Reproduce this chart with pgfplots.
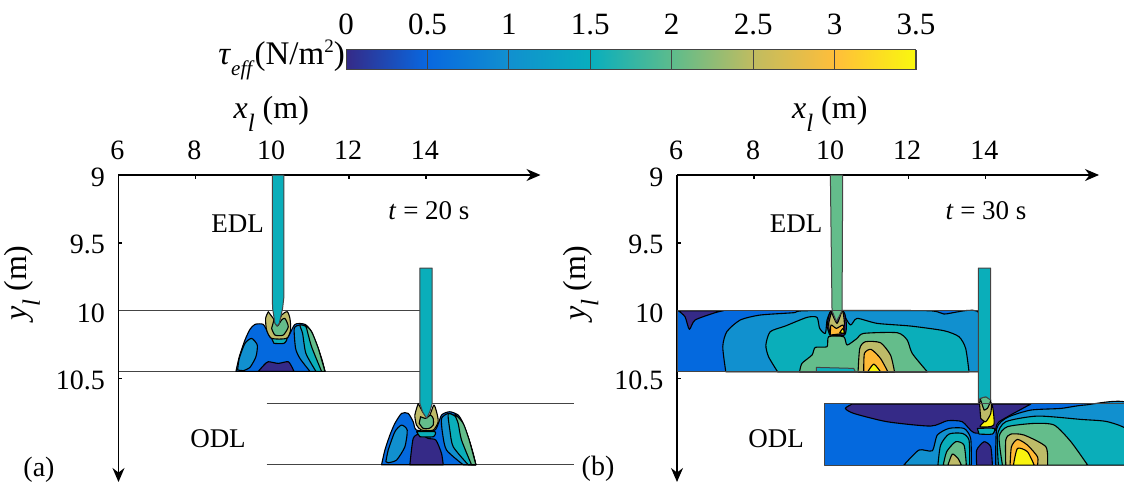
\documentclass[border=0pt]{standalone}
\usepackage{pgfplots}
\pgfplotsset{compat=1.18}
\usepackage{fontspec}
\setmainfont{Liberation Serif}
\usetikzlibrary{arrows.meta}
\definecolor{c0}{HTML}{352A87}
\definecolor{c1}{HTML}{0469DE}
\definecolor{c2}{HTML}{1190CF}
\definecolor{c3}{HTML}{0AAEBA}
\definecolor{c4}{HTML}{64BD8B}
\definecolor{c5}{HTML}{BEBB68}
\definecolor{c6}{HTML}{FFB935}
\definecolor{c7}{HTML}{F9F40F}
\definecolor{ln}{HTML}{444444}
\pgfplotsset{
 lft/.style n args={2}{x filter/.expression={6+(#1+x/3-118.5)/38.45}, y filter/.expression={9+(#2+y/3-175)/135.8}},
 rgt/.style n args={2}{x filter/.expression={6+(#1+x/3-677)/38.45}, y filter/.expression={9+(#2+y/3-175)/135.8}},
 za/.style={lft={200}{290}},
 zb/.style={rgt={660}{290}},
 zc/.style={rgt={820}{380}},
 reg/.style={draw=black,line width=1.1pt,line join=round,smooth,tension=0.4},
 sq/.style={draw=ln,line width=1pt,line join=round},
 hl/.style={draw=ln,line width=1.1pt},
 panel/.style={
  scale only axis,width=422pt,height=307pt,anchor=north west,clip=false,
  ymin=9,ymax=11.26,y dir=reverse,no marks,
  axis x line=top,axis y line=left,
  axis line style={line width=1.5pt,-{Stealth[length=14pt,width=12pt]}},
  xtick={6,8,10,12,14},ytick={9,9.5,10,10.5},
  tick align=inside,major tick length=4pt,tick style={line width=1.3pt,black},
  /pgf/number format/assume math mode=true,
  tick label style={font=\fontsize{28}{30}\selectfont},
  xticklabel style={yshift=12pt,xshift=-1pt},
  yticklabel style={yshift=-2pt,xshift=-10pt},
  xlabel={\fontsize{32}{34}\selectfont\textit{x}\raisebox{-13pt}{\fontsize{25}{25}\selectfont\textit{l}} (m)},
  ylabel={\fontsize{32}{34}\selectfont\textit{y}\raisebox{-13pt}{\fontsize{25}{25}\selectfont\textit{l}} (m)},
  every axis x label/.style={at={(axis description cs:0.362,1.2)},anchor=center},
  every axis y label/.style={at={(axis description cs:-0.228,0.648)},anchor=center,rotate=90},
 }
}
\newcommand{\reg}[3]{\addplot[reg,#1,fill=#2] coordinates {#3} --cycle;}
\newcommand{\sqr}[3]{\addplot[sq,#1,fill=#2] coordinates {#3} --cycle;}
\newcommand{\lab}[4][]{\node[font=\fontsize{#2}{#2}\selectfont,#1] at (#3) {#4};}
\begin{document}
\begin{tikzpicture}
\useasboundingbox (0pt,0pt) rectangle (1124pt,-486pt);

% colour bar
\begin{axis}[scale only axis,width=570pt,height=20pt,anchor=north west,at={(346pt,-50pt)},
  xmin=0,xmax=3.5,ymin=0,ymax=1,view={0}{90},
  colormap={tau}{rgb255(0cm)=(53,42,135);rgb255(1cm)=(8,104,224);rgb255(2cm)=(17,144,207);rgb255(3cm)=(8,174,190);rgb255(4cm)=(93,188,140);rgb255(5cm)=(192,188,96);rgb255(6cm)=(255,190,58);rgb255(7cm)=(249,248,14)},
  point meta min=0,point meta max=3.5,
  ytick=\empty,xtick={0,0.5,1,1.5,2,2.5,3,3.5},xticklabel pos=upper,xtick pos=upper,
  tick align=inside,major tick length=20pt,tick style={line width=0.8pt,ln},
  axis line style={line width=1pt,ln},axis on top,
  /pgf/number format/assume math mode=true,
  tick label style={font=\fontsize{31}{33}\selectfont},
  xticklabel style={yshift=12pt}]
\addplot3[surf,shader=interp,mesh/rows=2] coordinates {
(0,0,0) (0.5,0,0.5) (1,0,1) (1.5,0,1.5) (2,0,2) (2.5,0,2.5) (3,0,3) (3.5,0,3.5)

(0,1,0) (0.5,1,0.5) (1,1,1) (1.5,1,1.5) (2,1,2) (2.5,1,2.5) (3,1,3) (3.5,1,3.5)
};
\end{axis}
\node[anchor=east,inner sep=0pt,font=\fontsize{33}{35}\selectfont] at (345pt,-60pt)
  {\textit{τ}\raisebox{-11pt}{\fontsize{21}{21}\selectfont\textit{eff}}(N/m\raisebox{12pt}{\fontsize{19}{19}\selectfont 2})};

% panel (a)
\begin{axis}[panel,at={(118.5pt,-175pt)},xmin=6,xmax=16.98]
\addplot[hl,za] coordinates {(-243,62) (660,62)};
\addplot[hl,za] coordinates {(-243,244) (660,244)};
\addplot[hl,za] coordinates {(200,340) (1122,340)};
\addplot[hl,za] coordinates {(200,524) (1122,524)};
% EDL blob
\reg{za}{c1}{(108,244)(118,200)(135,150)(150,118)(165,103)(190,103)(205,130)(215,145)(260,145)(285,103)(315,103)(335,125)(355,175)(368,215)(375,244)}
\reg{za}{c2}{(113,240)(118,205)(135,160)(155,145)(172,165)(168,200)(150,232)(130,242)}
\reg{za}{c0}{(175,244)(192,225)(205,215)(235,220)(265,215)(278,235)(282,244)}
\reg{za}{c2}{(330,244)(300,205)(287,175)(283,115)(300,105)(320,110)(335,130)(355,178)(375,244)}
\reg{za}{c3}{(348,244)(318,190)(308,130)(300,105)(320,110)(335,130)(355,178)(375,244)}
\reg{za}{c4}{(365,244)(335,170)(320,115)(315,103)(335,125)(355,175)(375,244)}
\reg{za}{c3}{(215,145)(260,145)(252,160)(222,160)}
\reg{za}{c5}{(205,65)(197,85)(200,120)(215,145)(260,145)(272,120)(270,85)(262,65)(245,75)(232,105)(220,85)}
\reg{za}{c4}{(222,90)(232,108)(245,90)(255,85)(265,110)(250,135)(225,135)(215,115)}
\sqr{za}{c3}{(217,-345)(252,-345)(252,20)(248,55)(238,100)(232,108)(225,100)(218,55)(217,20)}
% ODL blob
\reg{za}{c1}{(545,524)(555,480)(570,435)(585,400)(605,370)(625,370)(640,395)(650,420)(705,420)(725,375)(750,365)(775,375)(790,400)(808,450)(820,490)(828,524)}
\reg{za}{c0}{(630,524)(640,445)(660,432)(685,445)(708,450)(725,490)(730,524)}
\reg{za}{c2}{(558,515)(565,480)(585,425)(605,405)(622,420)(615,470)(590,510)(565,518)}
\reg{za}{c2}{(790,524)(740,480)(728,430)(725,385)(745,370)(765,378)(790,405)(808,452)(828,524)}
\reg{za}{c3}{(805,524)(760,470)(750,420)(745,372)(765,378)(790,405)(808,452)(828,524)}
\reg{za}{c4}{(815,524)(785,450)(775,400)(765,372)(790,400)(808,450)(828,524)}
\reg{za}{c3}{(650,425)(705,425)(700,440)(660,440)}
\reg{za}{c5}{(655,340)(645,375)(650,405)(665,420)(700,420)(715,395)(710,365)(702,345)(690,375)(680,380)(668,365)}
\reg{za}{c4}{(662,380)(678,385)(692,375)(700,385)(700,405)(688,415)(670,415)(658,400)}
\sqr{za}{c3}{(660,-66)(697,-66)(697,340)(690,365)(680,385)(668,365)(660,340)}
\end{axis}

% panel (b)
\begin{axis}[panel,at={(677pt,-175pt)},xmin=6,xmax=16.95]
% EDL rectangle
\sqr{zb}{c1}{(52,62)(955,62)(955,245)(52,245)}
\reg{zb}{c0}{(55,62)(75,80)(88,118)(105,90)(165,68)(190,62)}
\reg{zb}{c2}{(197,245)(188,170)(200,125)(240,90)(300,75)(400,68)(440,62)(800,62)(850,72)(955,68)(955,245)}
\reg{zb}{c3}{(352,245)(325,200)(317,165)(330,125)(375,108)(440,82)(470,82)(478,115)(495,130)(500,90)(510,70)(545,70)(570,105)(590,85)(650,100)(750,108)(850,122)(895,140)(915,175)(925,245)}
\reg{zb}{c4}{(418,245)(425,220)(455,195)(465,172)(500,170)(505,140)(550,140)(560,165)(590,145)(610,130)(710,128)(740,150)(755,190)(800,245)}
\sqr{zb}{c3}{(468,245)(468,232)(580,235)(585,245)}
\reg{zb}{c5}{(593,245)(598,175)(615,155)(660,158)(690,195)(702,245)}
\reg{zb}{c6}{(610,245)(612,190)(632,178)(660,205)(682,245)}
\reg{zb}{c7}{(622,245)(640,222)(660,245)}
\reg{zb}{c0}{(500,110)(510,65)(550,65)(558,105)(552,135)(508,135)}
\reg{zb}{c5}{(513,65)(530,100)(546,62)(552,100)(545,130)(510,130)(505,100)}
\reg{zb}{c6}{(510,135)(512,105)(528,115)(548,105)(552,130)}
\reg{zb}{c7}{(538,128)(548,115)(552,130)}
\sqr{zb}{c4}{(510,-345)(547,-345)(545,62)(528,95)(515,62)}
\addplot[hl,zb] coordinates {(52,62)(955,62)};
\addplot[hl,zb] coordinates {(52,245)(955,245)};
% ODL rectangle
\sqr{zc}{c1}{(13,70)(912,70)(912,255)(13,255)}
\reg{zc}{c2}{(250,255)(295,210)(335,212)(350,165)(385,145)(430,145)(450,175)(452,255)}
\reg{zc}{c3}{(352,255)(360,195)(385,162)(425,160)(445,180)(447,255)}
\reg{zc}{c4}{(368,255)(378,215)(405,185)(430,195)(437,255)}
\reg{zc}{c5}{(382,255)(395,222)(412,235)(422,255)}
\reg{zc}{c0}{(468,255)(468,210)(490,185)(510,200)(515,255)}
\reg{zc}{c2}{(525,255)(528,145)(560,112)(630,90)(720,85)(790,75)(925,72)(930,255)}
\reg{zc}{c3}{(533,255)(530,165)(555,125)(650,108)(780,118)(860,125)(925,155)(930,255)}
\reg{zc}{c4}{(545,255)(535,170)(560,140)(640,130)(700,135)(750,185)(800,255)}
\reg{zc}{c5}{(555,255)(555,180)(570,162)(610,165)(675,200)(680,255)}
\reg{zc}{c6}{(568,255)(572,200)(590,178)(620,195)(650,230)(650,255)}
\reg{zc}{c7}{(578,255)(590,205)(620,215)(640,255)}
\reg{zc}{c0}{(95,72)(75,85)(100,100)(200,125)(330,138)(380,122)(425,125)(460,158)(520,155)(535,125)(630,72)}
\reg{zc}{c3}{(470,145)(520,145)(515,162)(475,162)}
\reg{zc}{c7}{(500,72)(514,72)(519,135)(478,140)(490,125)(504,100)}
\reg{zc}{c5}{(476,65)(510,65)(510,100)(495,125)(480,115)}
\reg{zc}{c4}{(478,55)(495,50)(510,60)(500,85)(490,90)}
\sqr{zc}{c3}{(473,-336)(510,-336)(510,60)(495,50)(478,55)(473,70)}
\addplot[hl,zc] coordinates {(13,70)(912,70)};
\addplot[hl,zc] coordinates {(13,255)(912,255)};
\end{axis}

\lab{27}{237.5pt,-224pt}{EDL}
\lab{27}{218pt,-439pt}{ODL}
\lab{27}{429pt,-211pt}{\textit{t} = 20 s}
\lab{28}{39pt,-470pt}{(a)}
\lab{27}{796pt,-224pt}{EDL}
\lab{27}{776pt,-439pt}{ODL}
\lab{27}{986pt,-211pt}{\textit{t} = 30 s}
\lab{28}{598pt,-469pt}{(b)}
\end{tikzpicture}
\end{document}
